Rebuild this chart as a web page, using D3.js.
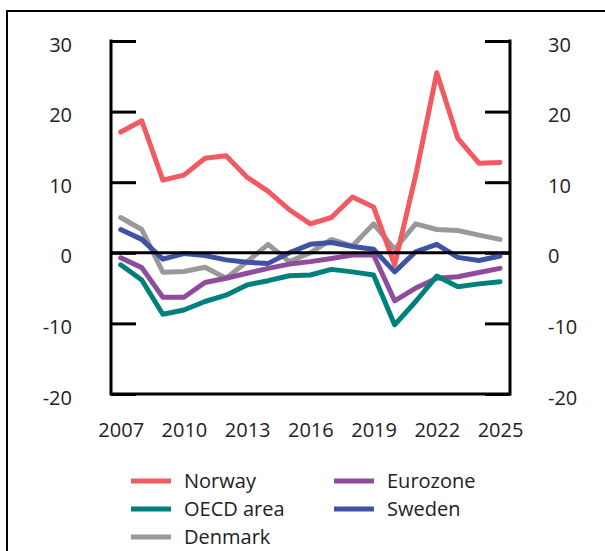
<!DOCTYPE html>
<html>
<head>
<meta charset="utf-8">
<script src="https://cdn.jsdelivr.net/npm/d3@7"></script>
<style>
  html, body { margin: 0; padding: 0; background: #fff; }
  svg { display: block; }
  text { font-family: 'Open Sans', 'Noto Sans', sans-serif; fill: #222; }
</style>
</head>
<body>
<div id="chart"></div>
<script>
const YEARS = d3.range(2007, 2026)

const NORWAY   = [17.1, 18.7, 10.3, 11.0, 13.4, 13.75, 10.7, 8.7, 6.1, 4.1, 5.0, 7.9, 6.5, -1.7, 11.0, 25.5, 16.2, 12.7, 12.8]
const EUROZONE = [-0.7, -2.1, -6.3, -6.3, -4.2, -3.6, -2.9, -2.2, -1.6, -1.25, -0.8, -0.3, -0.3, -6.8, -5.0, -3.6, -3.4, -2.8, -2.2]
const OECD     = [-1.7, -3.85, -8.7, -8.1, -6.9, -6.0, -4.55, -3.95, -3.25, -3.15, -2.35, -2.7, -3.15, -10.2, -6.9, -3.3, -4.8, -4.4, -4.1]
const SWEDEN   = [3.3, 1.9, -0.9, -0.1, -0.4, -1.0, -1.35, -1.5, 0.0, 1.2, 1.45, 0.9, 0.5, -2.7, 0.15, 1.2, -0.65, -1.1, -0.45]
const DENMARK  = [5.0, 3.3, -2.75, -2.65, -2.05, -3.6, -1.25, 1.2, -1.25, 0.0, 1.9, 0.95, 4.1, 0.5, 4.1, 3.3, 3.15, 2.5, 1.9]

const Y_TICKS = [-20, -10, 0, 10, 20, 30]
const X_TICKS = [2007, 2010, 2013, 2016, 2019, 2022, 2025]

const SERIES = [
  { name: 'Norway',    values: NORWAY,   color: '#f05a60' },
  { name: 'Eurozone',  values: EUROZONE, color: '#8f4c9d' },
  { name: 'OECD area', values: OECD,     color: '#00807c' },
  { name: 'Sweden',    values: SWEDEN,   color: '#3e53a4' },
  { name: 'Denmark',   values: DENMARK,  color: '#999999' },
]

// draw order: back to front
const DRAW_ORDER = ['Denmark', 'Sweden', 'Eurozone', 'OECD area', 'Norway']

const LEGEND_LAYOUT = [
  { name: 'Norway',    col: 0, row: 0 },
  { name: 'Eurozone',  col: 1, row: 0 },
  { name: 'OECD area', col: 0, row: 1 },
  { name: 'Sweden',    col: 1, row: 1 },
  { name: 'Denmark',   col: 0, row: 2 },
]

const W = 605
const H = 551
const LEFT = 111
const RIGHT = 510
const TOP = 41
const BOTTOM = 394

const x = d3.scaleLinear().domain([2007, 2025]).range([120.7, 500])
const y = d3.scaleLinear().domain([-20, 30]).range([BOTTOM, TOP])

const svg = d3.select('#chart').append('svg')
  .attr('width', W).attr('height', H)

// outer frame (runs off the right and bottom edge)
svg.append('rect')
  .attr('x', 7).attr('y', 11)
  .attr('width', 800).attr('height', 800)
  .attr('fill', 'none')
  .attr('stroke', '#000')
  .attr('stroke-width', 2)

// plain hyphen for negatives, as in the original
const fmtY = d => String(d)

// axes: inward ticks, labels outside
const leftAxis = svg.append('g')
  .attr('transform', `translate(${LEFT},0)`)
  .call(d3.axisLeft(y).tickValues(Y_TICKS).tickSize(-25).tickPadding(39).tickFormat(fmtY))
const rightAxis = svg.append('g')
  .attr('transform', `translate(${RIGHT},0)`)
  .call(d3.axisRight(y).tickValues(Y_TICKS).tickSize(-25).tickPadding(38).tickFormat(fmtY))
const bottomAxis = svg.append('g')
  .attr('transform', `translate(0,${BOTTOM})`)
  .call(d3.axisBottom(x).tickValues(X_TICKS).tickSize(0).tickPadding(29).tickFormat(d3.format('d')))

for (const g of [leftAxis, rightAxis, bottomAxis]) {
  g.select('.domain').remove()
  g.selectAll('line').attr('stroke', '#000').attr('stroke-width', 3)
  g.selectAll('text')
    .attr('font-family', "'Open Sans', sans-serif")
    .attr('font-size', 20)
    .attr('fill', '#222')
}
leftAxis.selectAll('text').attr('dy', '0.5em')
rightAxis.selectAll('text').attr('dy', '0.5em')

// frame lines
const frame = svg.append('g').attr('stroke', '#000').attr('stroke-width', 3).attr('fill', 'none')
frame.append('line').attr('x1', LEFT).attr('x2', LEFT).attr('y1', TOP - 1.5).attr('y2', BOTTOM + 1.5)
frame.append('line').attr('x1', RIGHT).attr('x2', RIGHT).attr('y1', TOP - 1.5).attr('y2', BOTTOM + 1.5)
frame.append('line').attr('x1', LEFT).attr('x2', RIGHT).attr('y1', BOTTOM).attr('y2', BOTTOM)

const line = d3.line()
  .x((d, i) => x(YEARS[i]))
  .y(d => y(d))

const byName = new Map(SERIES.map(s => [s.name, s]))
svg.append('g')
  .selectAll('path')
  .data(DRAW_ORDER.map(n => byName.get(n)))
  .join('path')
  .attr('d', d => line(d.values))
  .attr('fill', 'none')
  .attr('stroke', d => d.color)
  .attr('stroke-width', 5)
  .attr('stroke-linejoin', 'round')
  .attr('stroke-linecap', 'round')

// zero line over the series
svg.append('line')
  .attr('x1', LEFT).attr('x2', RIGHT)
  .attr('y1', y(0)).attr('y2', y(0))
  .attr('stroke', '#000')
  .attr('stroke-width', 3)

// legend
const COL_X = [131, 334]
const ROW_Y = [481, 509, 537]
const legend = svg.append('g')
  .selectAll('g')
  .data(LEGEND_LAYOUT)
  .join('g')
  .attr('transform', d => `translate(${COL_X[d.col]},${ROW_Y[d.row]})`)

legend.append('line')
  .attr('x1', 0).attr('x2', 40)
  .attr('stroke', d => byName.get(d.name).color)
  .attr('stroke-width', 5)

legend.append('text')
  .attr('x', 53)
  .attr('y', 7)
  .attr('font-size', 20)
  .text(d => d.name)
</script>
</body>
</html>
